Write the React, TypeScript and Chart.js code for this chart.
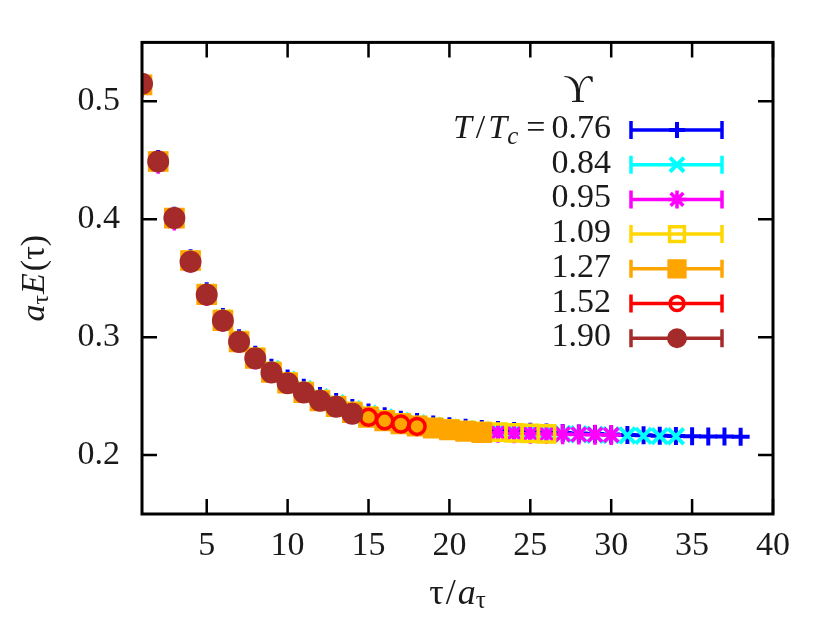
import { useEffect, useRef } from 'react'
import { Chart, registerables } from 'chart.js'
import { drawPoint } from 'chart.js/helpers'

Chart.register(...registerables)

// τ/a_τ values (1..38)
const tauValues = [
  1, 2, 3, 4, 5, 6, 7, 8, 9, 10, 11, 12, 13, 14, 15, 16, 17, 18, 19,
  20, 21, 22, 23, 24, 25, 26, 27, 28, 29, 30, 31, 32, 33, 34, 35, 36, 37, 38,
]

// T/T_c labels
const temperatures = ['0.76', '0.84', '0.95', '1.09', '1.27', '1.52', '1.90']

// a_τ E(τ) per temperature, starting at τ = 1
const e076 = [
  0.516, 0.451, 0.403, 0.367, 0.339, 0.317, 0.299, 0.285, 0.274, 0.265, 0.257, 0.250, 0.245,
  0.240, 0.236, 0.233, 0.230, 0.228, 0.226, 0.2245, 0.2232, 0.2222, 0.2213, 0.2205, 0.2198,
  0.2192, 0.2187, 0.2182, 0.2178, 0.2174, 0.2170, 0.2167, 0.2164, 0.2162, 0.2160, 0.2158,
  0.2157, 0.2155,
]
const e084 = [
  0.515, 0.450, 0.402, 0.366, 0.338, 0.316, 0.298, 0.284, 0.273, 0.264, 0.256, 0.249, 0.244,
  0.239, 0.235, 0.232, 0.229, 0.227, 0.225, 0.2235, 0.2222, 0.2212, 0.2203, 0.2196, 0.2190,
  0.2185, 0.2180, 0.2176, 0.2172, 0.2169, 0.2166, 0.2163, 0.2161, 0.2159,
]
const e095 = [
  0.512, 0.447, 0.399, 0.363, 0.335, 0.313, 0.295, 0.281, 0.270, 0.261, 0.253, 0.246, 0.241,
  0.236, 0.232, 0.229, 0.2265, 0.2245, 0.223, 0.2217, 0.2206, 0.2197, 0.219, 0.2185, 0.2181,
  0.2178, 0.2176, 0.2174, 0.2172, 0.2170,
]
const e109 = [
  0.514, 0.449, 0.401, 0.365, 0.337, 0.315, 0.297, 0.283, 0.271, 0.262, 0.254, 0.247, 0.242,
  0.237, 0.233, 0.2298, 0.2272, 0.2252, 0.2235, 0.2221, 0.2210, 0.2201, 0.2194, 0.2188, 0.2184,
  0.2180,
]
const e127 = [
  0.514, 0.449, 0.401, 0.365, 0.336, 0.314, 0.296, 0.282, 0.270, 0.261, 0.253, 0.246, 0.241,
  0.236, 0.232, 0.229, 0.2265, 0.2245, 0.2228, 0.2213, 0.2201, 0.2190,
]
const e152 = [
  0.514, 0.449, 0.401, 0.364, 0.336, 0.314, 0.296, 0.282, 0.270, 0.261, 0.253, 0.246, 0.241,
  0.236, 0.232, 0.229, 0.2263, 0.2243,
]
const e190 = [
  0.515, 0.449, 0.401, 0.364, 0.336, 0.314, 0.296, 0.282, 0.270, 0.261, 0.253, 0.246, 0.241,
  0.235,
]

const xTicks = [5, 10, 15, 20, 25, 30, 35, 40]
const yTicks = [0.2, 0.3, 0.4, 0.5]

const SERIF = '"Liberation Serif", "Times New Roman", "DejaVu Serif", serif'
const INK = '#1a1a1a'

const styles = [
  { color: '#0000ff', point: 'cross', radius: 9, width: 4, fill: 'rgba(0,0,0,0)' },
  { color: '#00ffff', point: 'crossRot', radius: 11, width: 4, fill: 'rgba(0,0,0,0)' },
  { color: '#ff00ff', point: 'star', radius: 10, width: 3.5, fill: 'rgba(0,0,0,0)' },
  { color: '#ffd700', point: 'rect', radius: 11.5, width: 3.5, fill: 'rgba(0,0,0,0)' },
  { color: '#ffa500', point: 'rect', radius: 12.5, width: 3, fill: '#ffa500' },
  { color: '#ff0000', point: 'circle', radius: 8, width: 3.5, fill: 'rgba(0,0,0,0)' },
  { color: '#a52a2a', point: 'circle', radius: 10, width: 2, fill: '#a52a2a' },
]

type Part = { t: string; font: string; dy?: number; gap?: number }

function drawParts(ctx: CanvasRenderingContext2D, parts: Part[], x: number, y: number, align: 'left' | 'right' | 'center') {
  const widths = parts.map(p => { ctx.font = p.font; return ctx.measureText(p.t).width + (p.gap ?? 0) })
  const total = widths.reduce((a, b) => a + b, 0)
  let cx = align === 'left' ? x : align === 'right' ? x - total : x - total / 2
  ctx.textAlign = 'left'
  ctx.textBaseline = 'alphabetic'
  parts.forEach((p, i) => {
    ctx.font = p.font
    ctx.fillText(p.t, cx, y + (p.dy ?? 0))
    cx += widths[i]
  })
}

const gnuplotLook = {
  id: 'gnuplotLook',
  afterDraw(chart: Chart) {
    const { ctx, chartArea: a } = chart
    const xs = chart.scales.x
    const ys = chart.scales.y
    ctx.save()
    ctx.strokeStyle = '#000'
    ctx.lineWidth = 2.5
    ctx.lineCap = 'butt'
    ctx.beginPath()
    xTicks.forEach(v => {
      const px = xs.getPixelForValue(v)
      ctx.moveTo(px, a.bottom); ctx.lineTo(px, a.bottom - 15)
      ctx.moveTo(px, a.top); ctx.lineTo(px, a.top + 15)
    })
    yTicks.forEach(v => {
      const py = ys.getPixelForValue(v)
      ctx.moveTo(a.left, py); ctx.lineTo(a.left + 15, py)
      ctx.moveTo(a.right, py); ctx.lineTo(a.right - 15, py)
    })
    ctx.stroke()
    ctx.lineWidth = 3
    ctx.strokeRect(a.left, a.top, a.right - a.left, a.bottom - a.top)

    // axis titles
    ctx.fillStyle = INK
    const it = (s: number) => `italic ${s}px ${SERIF}`
    const up = (s: number) => `${s}px ${SERIF}`
    drawParts(ctx, [
      { t: 'τ', font: up(36), gap: 2 },
      { t: '/', font: up(36), gap: 2 },
      { t: 'a', font: it(36) },
      { t: 'τ', font: up(25), dy: 4 },
    ], (a.left + a.right) / 2, 604, 'center')

    ctx.save()
    ctx.translate(34, (a.top + a.bottom) / 2)
    ctx.rotate(-Math.PI / 2)
    drawParts(ctx, [
      { t: 'a', font: it(34) },
      { t: 'τ', font: up(24), dy: 4, gap: 1 },
      { t: 'E', font: it(34), gap: 2 },
      { t: '(τ)', font: up(34) },
    ], 0, 10, 'center')
    ctx.restore()

    // legend
    ctx.textAlign = 'center'
    ctx.font = `40px ${SERIF}`
    ctx.fillText('ϒ', 578, 102)
    const rowY0 = 130
    const rowStep = 34.7
    temperatures.forEach((t, i) => {
      const y = rowY0 + i * rowStep
      ctx.fillStyle = INK
      const parts: Part[] = i === 0
        ? [
            { t: 'T', font: it(34), gap: 4 },
            { t: '/', font: up(34), gap: 3 },
            { t: 'T', font: it(34) },
            { t: 'c', font: it(25), dy: 6, gap: 8 },
            { t: '=', font: up(34), gap: 6 },
            { t, font: up(34) },
          ]
        : [{ t, font: up(34) }]
      drawParts(ctx, parts, 611, y + 8, 'right')

      const s = styles[i]
      ctx.strokeStyle = s.color
      ctx.fillStyle = s.fill
      ctx.lineWidth = 3.5
      ctx.beginPath()
      ctx.moveTo(631, y); ctx.lineTo(722, y)
      ctx.moveTo(631, y - 9); ctx.lineTo(631, y + 9)
      ctx.moveTo(722, y - 9); ctx.lineTo(722, y + 9)
      ctx.stroke()
      ctx.lineWidth = s.width
      drawPoint(ctx, { pointStyle: s.point as any, rotation: 0, radius: s.radius - 1, borderWidth: s.width }, 677, y)
    })
    ctx.restore()
  },
}

const seriesValues = [e076, e084, e095, e109, e127, e152, e190]

export default function App() {
  const canvasRef = useRef<HTMLCanvasElement>(null)
  const chartRef = useRef<Chart | null>(null)

  useEffect(() => {
    document.body.style.margin = '0'
    if (!canvasRef.current) return
    if (chartRef.current) chartRef.current.destroy()

    chartRef.current = new Chart(canvasRef.current, {
      type: 'scatter',
      data: {
        datasets: seriesValues.map((vals, i) => ({
          label: temperatures[i],
          data: vals.map((v, k) => ({ x: tauValues[k], y: v })),
          pointStyle: styles[i].point as any,
          pointRadius: styles[i].radius,
          pointBorderWidth: styles[i].width,
          borderColor: styles[i].color,
          backgroundColor: styles[i].fill,
          order: 7 - i,
          showLine: false,
        })),
      },
      options: {
        responsive: true,
        maintainAspectRatio: false,
        animation: false,
        layout: { padding: { top: 40, right: 57, left: 0, bottom: 0 } },
        plugins: { legend: { display: false }, tooltip: { enabled: false } },
        scales: {
          x: {
            type: 'linear',
            min: 1,
            max: 40,
            grid: { display: false, drawTicks: false },
            border: { display: false },
            afterBuildTicks: s => { s.ticks = xTicks.map(value => ({ value })) },
            afterFit: s => { s.height = 109 },
            ticks: { color: INK, font: { family: SERIF, size: 34 }, padding: 12, maxRotation: 0 },
          },
          y: {
            type: 'linear',
            min: 0.15,
            max: 0.55,
            grid: { display: false, drawTicks: false },
            border: { display: false },
            afterBuildTicks: s => { s.ticks = yTicks.map(value => ({ value })) },
            afterFit: s => { s.width = 142 },
            ticks: { color: INK, font: { family: SERIF, size: 34 }, padding: 22, callback: v => Number(v).toFixed(1) },
          },
        },
      },
      plugins: [gnuplotLook],
    })

    return () => { chartRef.current?.destroy(); chartRef.current = null }
  }, [])

  return (
    <div style={{ position: 'relative', width: 830, height: 623, background: '#fff' }}>
      <canvas ref={canvasRef} />
    </div>
  )
}
